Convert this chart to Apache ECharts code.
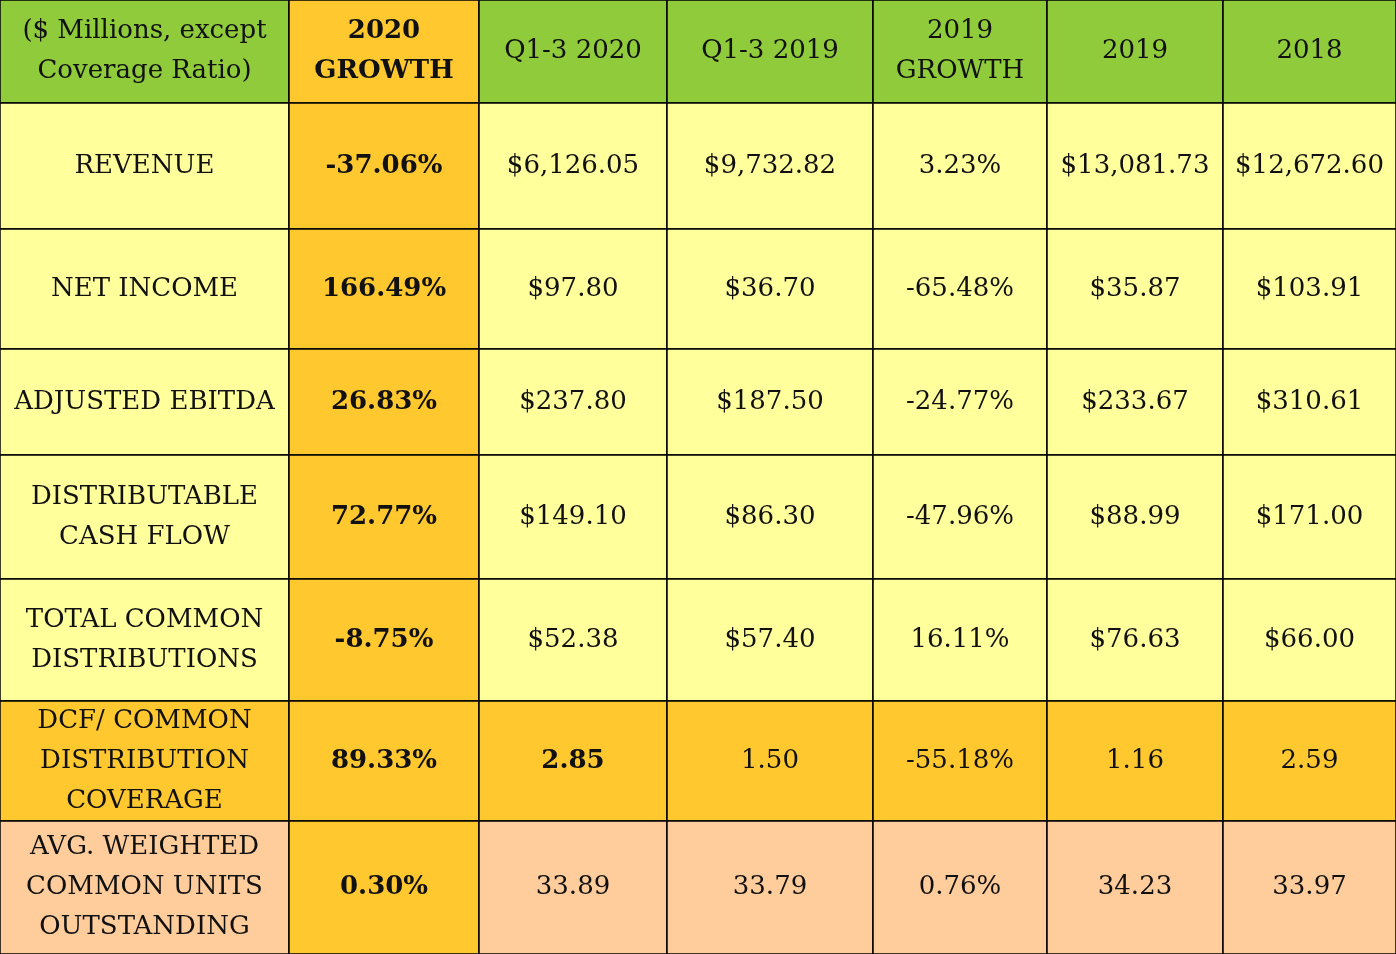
<!DOCTYPE html>
<html><head><meta charset="utf-8">
<script src="https://cdn.jsdelivr.net/npm/echarts@6/dist/echarts.min.js"></script>
<style>html,body{margin:0;padding:0;background:#fff}#c{width:1396px;height:954px}</style>
</head><body><div id="c"></div>
<script>
const headers = ["($ Millions, except\nCoverage Ratio)", "2020\nGROWTH", "Q1-3 2020", "Q1-3 2019", "2019\nGROWTH", "2019", "2018"];
const rowLabels = ["REVENUE", "NET INCOME", "ADJUSTED EBITDA", "DISTRIBUTABLE\nCASH FLOW", "TOTAL COMMON\nDISTRIBUTIONS", "DCF/ COMMON\nDISTRIBUTION\nCOVERAGE", "AVG. WEIGHTED\nCOMMON UNITS\nOUTSTANDING"];
const growth2020 = ["-37.06%", "166.49%", "26.83%", "72.77%", "-8.75%", "89.33%", "0.30%"];
const q2020 = ["$6,126.05", "$97.80", "$237.80", "$149.10", "$52.38", "2.85", "33.89"];
const q2019 = ["$9,732.82", "$36.70", "$187.50", "$86.30", "$57.40", "1.50", "33.79"];
const growth2019 = ["3.23%", "-65.48%", "-24.77%", "-47.96%", "16.11%", "-55.18%", "0.76%"];
const y2019 = ["$13,081.73", "$35.87", "$233.67", "$88.99", "$76.63", "1.16", "34.23"];
const y2018 = ["$12,672.60", "$103.91", "$310.61", "$171.00", "$66.00", "2.59", "33.97"];

// layout
const colEdges = [0, 289, 479, 667, 873, 1047, 1223, 1396];
const rowEdges = [0, 103, 229, 349, 455, 579, 701, 821, 954];
const GREEN = '#8fcb3a', YEL = '#ffff9c', GOLD = '#ffc82f', SALMON = '#ffcc9c';

const columns = [rowLabels, growth2020, q2020, q2019, growth2019, y2019, y2018];
const cells = [];
headers.forEach((h, c) => cells.push([c, 0, h]));
for (let r = 0; r < rowLabels.length; r++)
  for (let c = 0; c < columns.length; c++) cells.push([c, r + 1, columns[c][r]]);

function fillOf(c, r) {
  if (r === 0) return c === 1 ? GOLD : GREEN;
  if (r === 7) return c === 1 ? GOLD : SALMON;
  if (r === 6) return GOLD;
  return c === 1 ? GOLD : YEL;
}
function boldOf(c, r) {
  if (r === 0) return c === 1;
  if (c === 1) return true;
  return r === 6 && c === 2;
}

const chart = echarts.init(document.getElementById('c'));
chart.setOption({
  animation: false,
  grid: {left: 0, right: 0, top: 0, bottom: 0},
  xAxis: {type: 'value', min: 0, max: 1396, show: false},
  yAxis: {type: 'value', min: 0, max: 954, inverse: true, show: false},
  series: [{
    type: 'custom',
    data: cells,
    renderItem: function (params, api) {
      const c = api.value(0), r = api.value(1);
      const txt = cells[params.dataIndex][2];
      const p0 = api.coord([colEdges[c], rowEdges[r]]);
      const p1 = api.coord([colEdges[c + 1], rowEdges[r + 1]]);
      const w = p1[0] - p0[0], h = p1[1] - p0[1];
      return {
        type: 'group',
        children: [
          {type: 'rect', shape: {x: p0[0], y: p0[1], width: w, height: h},
           style: {fill: fillOf(c, r), stroke: '#000', lineWidth: 1.5}},
          {type: 'text', x: p0[0] + w / 2, y: p0[1] + h / 2,
           style: {text: txt, align: 'center', verticalAlign: 'middle',
             fontFamily: 'DejaVu Serif', fontSize: 26, lineHeight: 40,
             fontWeight: boldOf(c, r) ? 'bold' : 'normal', fill: '#111'}}
        ]
      };
    }
  }]
});
</script></body></html>
